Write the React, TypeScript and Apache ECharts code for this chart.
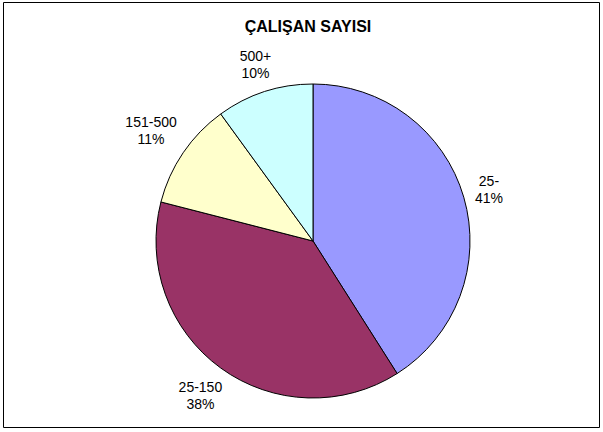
import React, { useEffect, useRef } from "react";
import * as echarts from "echarts";

const categories = ["25-", "25-150", "151-500", "500+"];
const values = [41, 38, 11, 10];
const colors = ["#9999FF", "#993366", "#FFFFCC", "#CCFFFF"];
const titleText = "ÇALIŞAN SAYISI";

const CX = 313;
const CY = 241;
const R = 157;

export default function App() {
  const ref = useRef<HTMLDivElement>(null);
  useEffect(() => {
    if (!ref.current) return;
    const chart = echarts.init(ref.current, null, { renderer: "svg" });
    const total = values.reduce((a, b) => a + b, 0);
    const mids: number[] = [];
    let acc = 0;
    values.forEach((v) => {
      mids.push(((acc + v / 2) / total) * Math.PI * 2);
      acc += v;
    });
    chart.setOption({
      animation: false,
      backgroundColor: "#ffffff",
      title: {
        text: titleText,
        left: 303,
        textAlign: "center",
        top: 13,
        textStyle: {
          fontFamily: "Liberation Sans, Arial, sans-serif",
          fontSize: 16,
          fontWeight: "bold",
          color: "#000",
        },
      },
      graphic: [
        {
          type: "rect",
          shape: { x: 3.5, y: 2.5, width: 596, height: 425 },
          style: { fill: "none", stroke: "#000", lineWidth: 1 },
          silent: true,
        },
      ],
      series: [
        {
          type: "pie",
          center: [CX, CY],
          radius: [0, R],
          startAngle: 90,
          clockwise: true,
          data: categories.map((c, i) => ({
            name: c,
            value: values[i],
            itemStyle: { color: colors[i] },
          })),
          itemStyle: { borderColor: "#000", borderWidth: 1 },
          label: {
            show: true,
            position: "outside",
            formatter: (p: any) => `${p.name}\n${Math.round(p.percent)}%`,
            fontFamily: "Liberation Sans, Arial, sans-serif",
            fontSize: 14,
            lineHeight: 17,
            color: "#000",
            align: "center",
          },
          labelLine: { show: false, length: 10, length2: 0 },
          labelLayout: (params: any) => {
            const i = params.dataIndex;
            const a = mids[i];
            const dx = Math.sin(a);
            const dy = -Math.cos(a);
            const w = params.labelRect.width;
            const h = params.labelRect.height;
            const d = R + 8 + (Math.abs(dx) * w + Math.abs(dy) * h) / 2;
            return {
              x: CX + dx * d,
              y: CY + dy * d,
              align: "center",
              verticalAlign: "middle",
            };
          },
        },
      ],
    });
    return () => chart.dispose();
  }, []);
  return (
    <div
      ref={ref}
      style={{ position: "fixed", left: 0, top: 0, width: 603, height: 432 }}
    />
  );
}
